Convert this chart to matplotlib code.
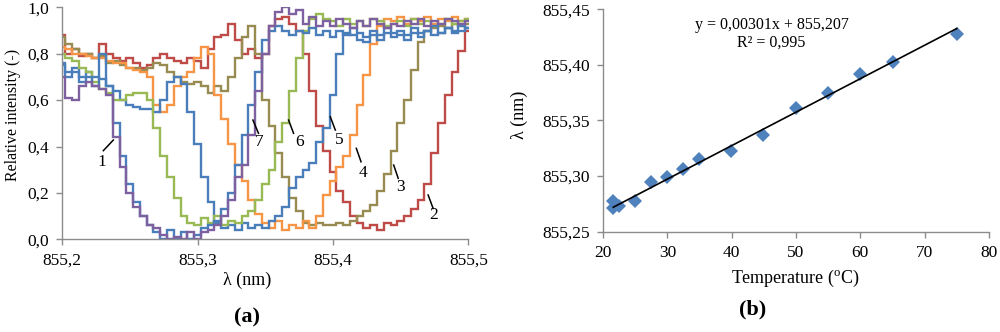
import numpy as np
import matplotlib
matplotlib.use("Agg")
import matplotlib.pyplot as plt
from matplotlib.ticker import FuncFormatter, MultipleLocator

plt.rcParams['font.family'] = ['Liberation Serif', 'DejaVu Serif']
plt.rcParams['mathtext.fontset'] = 'custom'
plt.rcParams['mathtext.rm'] = 'Liberation Serif'

# ---------------- data: panel (a) ----------------
wavelength = np.linspace(855.200, 855.500, 61)  # nm, 0.005 nm steps

curve1 = [0.70, 0.61, 0.60, 0.66, 0.68, 0.66, 0.65, 0.62, 0.44, 0.31,
          0.20, 0.14, 0.10, 0.06, 0.05, 0.02, 0.00, 0.01, 0.00, 0.03,
          0.00, 0.03, 0.04, 0.06, 0.10, 0.17, 0.27, 0.32, 0.45, 0.64,
          0.80, 0.92, 0.98, 1.00, 0.97, 0.99, 0.93, 0.96, 0.92, 0.94,
          0.92, 0.95, 0.93, 0.91, 0.94, 0.92, 0.95, 0.93, 0.91, 0.93,
          0.92, 0.94, 0.93, 0.95, 0.92, 0.94, 0.93, 0.95, 0.94, 0.93,
          0.94]
curve2 = [0.88, 0.80, 0.82, 0.79, 0.80, 0.78, 0.84, 0.80, 0.78, 0.77,
          0.78, 0.76, 0.74, 0.75, 0.78, 0.80, 0.78, 0.77, 0.76, 0.78,
          0.77, 0.74, 0.82, 0.87, 0.88, 0.93, 0.86, 0.80, 0.82, 0.78,
          0.80, 0.92, 0.95, 0.96, 0.93, 0.90, 0.80, 0.64, 0.49, 0.38,
          0.29, 0.21, 0.16, 0.10, 0.07, 0.05, 0.06, 0.04, 0.07, 0.06,
          0.08, 0.10, 0.13, 0.17, 0.24, 0.37, 0.50, 0.62, 0.72, 0.81,
          0.90]
curve3 = [0.87, 0.84, 0.82, 0.80, 0.80, 0.78, 0.79, 0.76, 0.77, 0.75,
          0.74, 0.74, 0.73, 0.74, 0.76, 0.75, 0.72, 0.70, 0.68, 0.67,
          0.68, 0.66, 0.63, 0.66, 0.64, 0.70, 0.78, 0.87, 0.92, 0.80,
          0.60, 0.49, 0.37, 0.27, 0.18, 0.12, 0.07, 0.06, 0.07, 0.06,
          0.06, 0.07, 0.06, 0.08, 0.10, 0.12, 0.15, 0.21, 0.28, 0.38,
          0.50, 0.60, 0.73, 0.85, 0.90, 0.91, 0.92, 0.91, 0.93, 0.92,
          0.93]
curve4 = [0.83, 0.82, 0.80, 0.80, 0.79, 0.78, 0.78, 0.77, 0.76, 0.76,
          0.74, 0.73, 0.72, 0.70, 0.58, 0.55, 0.58, 0.66, 0.70, 0.72,
          0.78, 0.83, 0.80, 0.62, 0.52, 0.41, 0.32, 0.25, 0.17, 0.11,
          0.07, 0.05, 0.08, 0.04, 0.06, 0.05, 0.08, 0.05, 0.10, 0.19,
          0.25, 0.31, 0.36, 0.45, 0.58, 0.71, 0.84, 0.92, 0.95, 0.94,
          0.96, 0.93, 0.95, 0.94, 0.96, 0.93, 0.95, 0.94, 0.96, 0.94,
          0.95]
curve5 = [0.75, 0.72, 0.74, 0.70, 0.72, 0.70, 0.69, 0.66, 0.64, 0.60,
          0.58, 0.57, 0.56, 0.56, 0.55, 0.60, 0.68, 0.70, 0.67, 0.55,
          0.41, 0.27, 0.16, 0.07, 0.05, 0.06, 0.04, 0.07, 0.05, 0.06,
          0.05, 0.08, 0.10, 0.14, 0.22, 0.27, 0.30, 0.33, 0.42, 0.48,
          0.62, 0.80, 0.89, 0.88, 0.86, 0.85, 0.88, 0.86, 0.89, 0.87,
          0.88, 0.86, 0.89, 0.87, 0.90, 0.88, 0.89, 0.91, 0.89, 0.90,
          0.91]
curve6 = [0.80, 0.78, 0.77, 0.74, 0.72, 0.68, 0.65, 0.63, 0.60, 0.60,
          0.62, 0.63, 0.63, 0.60, 0.48, 0.36, 0.27, 0.18, 0.10, 0.07,
          0.06, 0.09, 0.07, 0.10, 0.06, 0.08, 0.07, 0.10, 0.12, 0.17,
          0.24, 0.30, 0.42, 0.50, 0.64, 0.78, 0.90, 0.95, 0.97, 0.95,
          0.94, 0.92, 0.95, 0.93, 0.94, 0.92, 0.95, 0.94, 0.92, 0.93,
          0.94, 0.92, 0.95, 0.93, 0.94, 0.92, 0.93, 0.95, 0.93, 0.94,
          0.95]
curve7 = [0.76, 0.70, 0.72, 0.68, 0.70, 0.66, 0.80, 0.66, 0.50, 0.36,
          0.24, 0.16, 0.10, 0.06, 0.03, 0.00, 0.04, 0.00, 0.03, 0.00,
          0.02, 0.05, 0.06, 0.08, 0.13, 0.20, 0.32, 0.45, 0.58, 0.72,
          0.86, 0.90, 0.92, 0.90, 0.88, 0.90, 0.89, 0.91, 0.88, 0.90,
          0.87, 0.90, 0.88, 0.91, 0.89, 0.87, 0.90, 0.88, 0.91, 0.89,
          0.90, 0.88, 0.91, 0.89, 0.90, 0.92, 0.89, 0.91, 0.90, 0.92,
          0.91]

curve_labels = ['1', '2', '3', '4', '5', '6', '7']
# label text position and leader-line ends (data coords)
label_text_pos = [(855.2293, 0.334), (855.4744, 0.105), (855.4498, 0.227),
                  (855.4222, 0.287), (855.4049, 0.428), (855.3751, 0.421),
                  (855.3458, 0.421)]
label_line_start = [(855.2379, 0.428), (855.4702, 0.191), (855.4448, 0.320),
                    (855.4172, 0.392), (855.3980, 0.528), (855.3672, 0.514),
                    (855.3409, 0.514)]
label_line_end = [(855.2305, 0.382), (855.4739, 0.133), (855.4481, 0.263),
                  (855.4207, 0.334), (855.4017, 0.471), (855.3709, 0.457),
                  (855.3450, 0.457)]

# ---------------- data: panel (b) ----------------
temperature = [21.6, 21.6, 22.5, 25.0, 27.4, 29.9, 32.4, 34.9, 39.9,
               44.9, 50.0, 54.9, 60.0, 65.0, 75.0]
peak_wavelength = [855.278, 855.271, 855.273, 855.278, 855.295, 855.299,
                   855.306, 855.315, 855.323, 855.337, 855.361, 855.375,
                   855.392, 855.403, 855.428]
fit_slope = 0.00301
fit_intercept = 855.207
fit_text = "y = 0,00301x + 855,207"
r2_text = "R² = 0,995"

# ---------------- styling ----------------
C_BLUE = '#4A7EBB'
C_RED = '#BE4B48'
C_OLIVE = '#988B52'
C_ORANGE = '#F69546'
C_GREEN = '#98B954'
C_PURPLE = '#7D60A0'
SPINE = '#8C8C8C'
FS = 11.5
FS_TICK = 12.5
FS_XLAB = 13

W, H = 1000, 332
fig = plt.figure(figsize=(W / 100, H / 100), dpi=100)


def frac(x0, y0, x1, y1):
    return [x0 / W, 1 - y1 / H, (x1 - x0) / W, (y1 - y0) / H]


def style_axes(ax):
    for s in ['top', 'right']:
        ax.spines[s].set_visible(False)
    for s in ['left', 'bottom']:
        ax.spines[s].set_color(SPINE)
        ax.spines[s].set_linewidth(1.0)
    ax.tick_params(direction='out', length=4.5, width=1.0, color=SPINE,
                   labelsize=FS_TICK, pad=5)


comma = lambda fmt: FuncFormatter(lambda v, p: (fmt % v).replace('.', ','))

# panel (a)
axa = fig.add_axes(frac(62, 7.3, 468.5, 239.3))
series = [(curve2, C_RED), (curve3, C_OLIVE), (curve4, C_ORANGE),
          (curve5, C_BLUE), (curve6, C_GREEN), (curve7, C_BLUE),
          (curve1, C_PURPLE)]
for vals, col in series:
    axa.plot(wavelength, vals, color=col, lw=1.7, drawstyle='steps-mid',
             solid_joinstyle='miter')
axa.set_xlim(855.2, 855.5)
axa.set_ylim(0, 1.0)
axa.xaxis.set_major_locator(MultipleLocator(0.1))
axa.yaxis.set_major_locator(MultipleLocator(0.2))
axa.xaxis.set_major_formatter(comma('%.1f'))
axa.yaxis.set_major_formatter(comma('%.1f'))
style_axes(axa)
for lab, tp, ls, le in zip(curve_labels, label_text_pos, label_line_start,
                           label_line_end):
    axa.plot([ls[0], le[0]], [ls[1], le[1]], color='black', lw=1.1)
    axa.text(tp[0], tp[1], lab, fontsize=FS_TICK, ha='center', va='center')

fig.text(13 / W, 1 - 115 / H, 'Relative intensity (-)', rotation=90,
         ha='center', va='center', fontsize=FS)
fig.text(247 / W, 1 - 280 / H, 'λ (nm)', ha='center', va='center',
         fontsize=FS_XLAB)
fig.text(247 / W, 1 - 317 / H, '(a)', ha='center', va='center',
         fontsize=16, fontweight='bold')

# panel (b)
axb = fig.add_axes(frac(603, 9.3, 989, 231.7))
axb.plot(temperature, peak_wavelength, linestyle='none', marker='D',
         markersize=7, color='#4F81BD', markeredgewidth=0)
tfit = np.array([min(temperature), max(temperature)])
axb.plot(tfit, fit_slope * tfit + fit_intercept, color='black', lw=1.2)
axb.set_xlim(20, 80)
axb.set_ylim(855.25, 855.45)
axb.xaxis.set_major_locator(MultipleLocator(10))
axb.yaxis.set_major_locator(MultipleLocator(0.05))
axb.xaxis.set_major_formatter(FuncFormatter(lambda v, p: '%d' % round(v)))
axb.yaxis.set_major_formatter(comma('%.2f'))
style_axes(axb)
fig.text(772 / W, 1 - 25 / H, fit_text, ha='center', va='center',
         fontsize=FS)
fig.text(771 / W, 1 - 43 / H, r2_text, ha='center', va='center',
         fontsize=FS)

fig.text(519 / W, 1 - 115 / H, 'λ (nm)', rotation=90, ha='center',
         va='center', fontsize=FS_XLAB)
fig.text(795 / W, 1 - 278 / H, r'Temperature ($^{\mathrm{o}}$C)',
         ha='center', va='center', fontsize=FS_XLAB)
fig.text(753 / W, 1 - 309 / H, '(b)', ha='center', va='center',
         fontsize=16, fontweight='bold')

fig.savefig('out.png', dpi=100, facecolor='white')
